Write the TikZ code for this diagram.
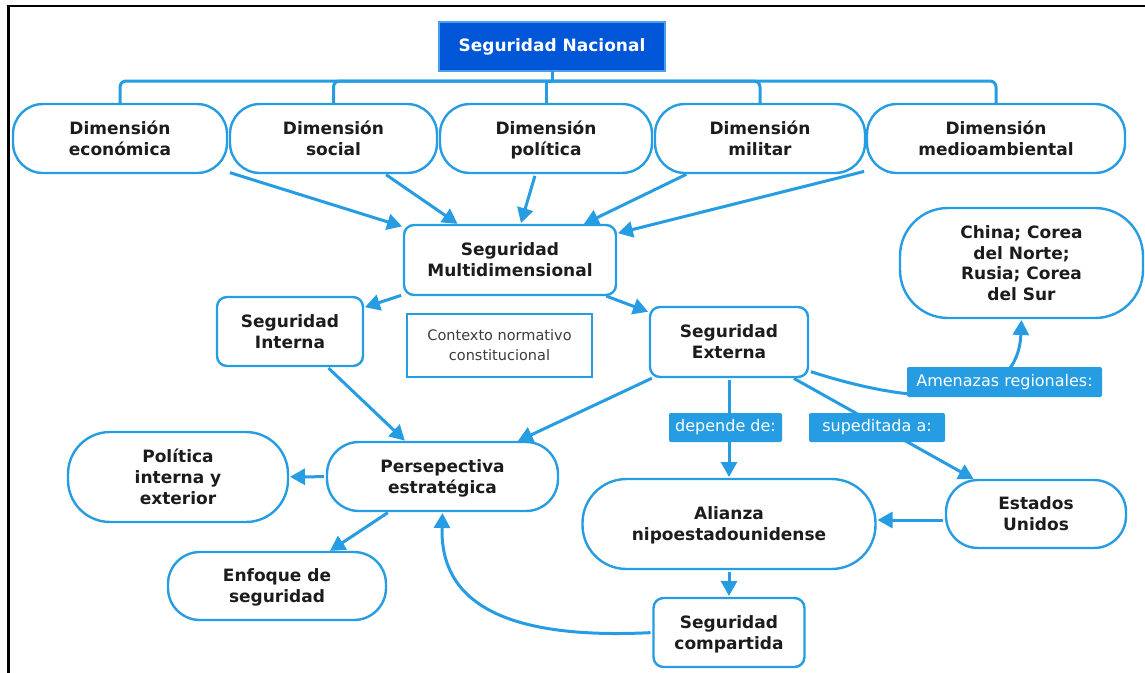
\documentclass[tikz,border=0pt]{standalone}
\usepackage{fontspec}
\setmainfont{DejaVu Sans}
\usetikzlibrary{arrows.meta,calc}
\definecolor{cmblue}{RGB}{38,156,226}
\definecolor{navyfill}{RGB}{0,86,214}
\definecolor{navyedge}{RGB}{70,160,238}
\definecolor{ink}{RGB}{28,28,28}
\definecolor{softink}{RGB}{60,60,60}
\begin{document}
\begin{tikzpicture}[x=1pt,y=-1pt,
  every node/.style={inner sep=0pt, outer sep=0pt},
  box/.style 2 args={draw=cmblue, line width=2.4pt, fill=white, text=ink, align=center,
    font=\bfseries\fontsize{17}{21}\selectfont, minimum width=#1, minimum height=#2,
    text depth=-4.5pt},
  rbox/.style 2 args={box={#1}{#2}, rounded corners=10pt},
  pill/.style n args={3}{box={#1}{#2}, rounded corners=#3},
  headbox/.style={draw=navyedge, line width=2pt, fill=navyfill, text=white,
    font=\bfseries\fontsize{17}{21}\selectfont, minimum width=226, minimum height=49},
  notebox/.style={draw=cmblue, line width=1.2pt, fill=white, text=softink, align=center,
    font=\fontsize{14.5}{20}\selectfont, minimum width=185, minimum height=63},
  lab/.style 2 args={fill=cmblue, text=white, rounded corners=2pt,
    font=\fontsize{16}{19}\selectfont, minimum width=#1, minimum height=#2},
  tree/.style={draw=cmblue, line width=3pt},
  conn/.style={draw=cmblue, line width=3pt, -{Triangle[length=15pt,width=16pt]},
    shorten <=3pt, shorten >=2pt}
]
\useasboundingbox (0,0) rectangle (1145,672);

% frame
\draw[black, line width=2.6pt] (8.5,680) -- (8.5,6) -- (1150,6);

% title and the five dimensions
\node[headbox] (nac) at (552,46.5) {Seguridad Nacional};
\node[pill={214}{69}{30pt}] (dimeco) at (120,138.5) {Dimensión\\económica};
\node[pill={207}{69}{30pt}] (dimsoc) at (333.5,138.5) {Dimensión\\social};
\node[pill={212}{69}{30pt}] (dimpol) at (546,138.5) {Dimensión\\política};
\node[pill={210}{69}{30pt}] (dimmil) at (760,138.5) {Dimensión\\militar};
\node[pill={258}{69}{30pt}] (dimmed) at (996,138.5) {Dimensión\\medioambiental};

\coordinate (hub) at (552,81);
\draw[tree] (nac.south) -- (hub);
\draw[tree, rounded corners=6pt] (hub) -| (dimeco.north);
\draw[tree, rounded corners=6pt] (hub) -| (dimsoc.north);
\draw[tree] (hub) -| (dimpol.north);
\draw[tree, rounded corners=6pt] (hub) -| (dimmil.north);
\draw[tree, rounded corners=6pt] (hub) -| (dimmed.north);

% middle level
\node[rbox={212}{70}] (multi) at (510,260) {Seguridad\\Multidimensional};
\node[rbox={146}{69}] (interna) at (290,331.5) {Seguridad\\Interna};
\node[notebox] (contexto) at (499.5,345.5) {Contexto normativo\\constitucional};
\node[rbox={158}{70}] (externa) at (729,342) {Seguridad\\Externa};
\node[pill={243}{110}{48pt}, font=\bfseries\fontsize{17}{20.7}\selectfont] (china) at (1021.5,263)
  {China; Corea\\del Norte;\\Rusia; Corea\\del Sur};

% lower level
\node[pill={231}{69}{32pt}] (persp) at (442.5,476.5) {Persepectiva\\estratégica};
\node[pill={220}{90}{42pt}] (polit) at (178,477) {Política\\interna y\\exterior};
\node[pill={218}{68}{32pt}] (enfoque) at (277,586) {Enfoque de\\seguridad};
\node[pill={293}{90}{44pt}] (alianza) at (729,524) {Alianza\\nipoestadounidense};
\node[pill={180}{68}{32pt}] (eeuu) at (1036,514) {Estados\\Unidos};
\node[rbox={151}{69}] (compart) at (729,632.5) {Seguridad\\compartida};

% dimensions feed the multidimensional view
\draw[conn] (dimeco) -- (multi);
\draw[conn] (dimsoc) -- (multi);
\draw[conn] (dimpol) -- (multi);
\draw[conn] (dimmil) -- (multi);
\draw[conn] (dimmed) -- (multi);

\draw[conn] (multi) -- (interna);
\draw[conn] (multi) -- (externa);
\draw[conn] (interna) -- (persp);
\draw[conn] (externa) -- (persp);
\draw[conn] (persp) -- (polit);
\draw[conn] (persp) -- (enfoque);

\draw[conn] (externa.south) -- (alianza.north);
\draw[conn] (externa) -- (eeuu);
\draw[conn] ($(eeuu.west)+(0,6)$) -- ($(alianza.east)+(0,-4)$);
\draw[conn] (alianza.south) -- (compart.north);
\draw[conn] (compart.west) .. controls (500,640) and (440,600) .. (persp.south);
\draw[conn] (externa.-20) .. controls (930,410) and (1018,405) .. (china.south);

% link labels
\node[lab={195}{30}] (amen) at (1004.5,382) {Amenazas regionales:};
\node[lab={113}{29}] (dep) at (725.5,427.5) {depende de:};
\node[lab={136}{29}] (sup) at (877,427.5) {supeditada a:};
\end{tikzpicture}
\end{document}
